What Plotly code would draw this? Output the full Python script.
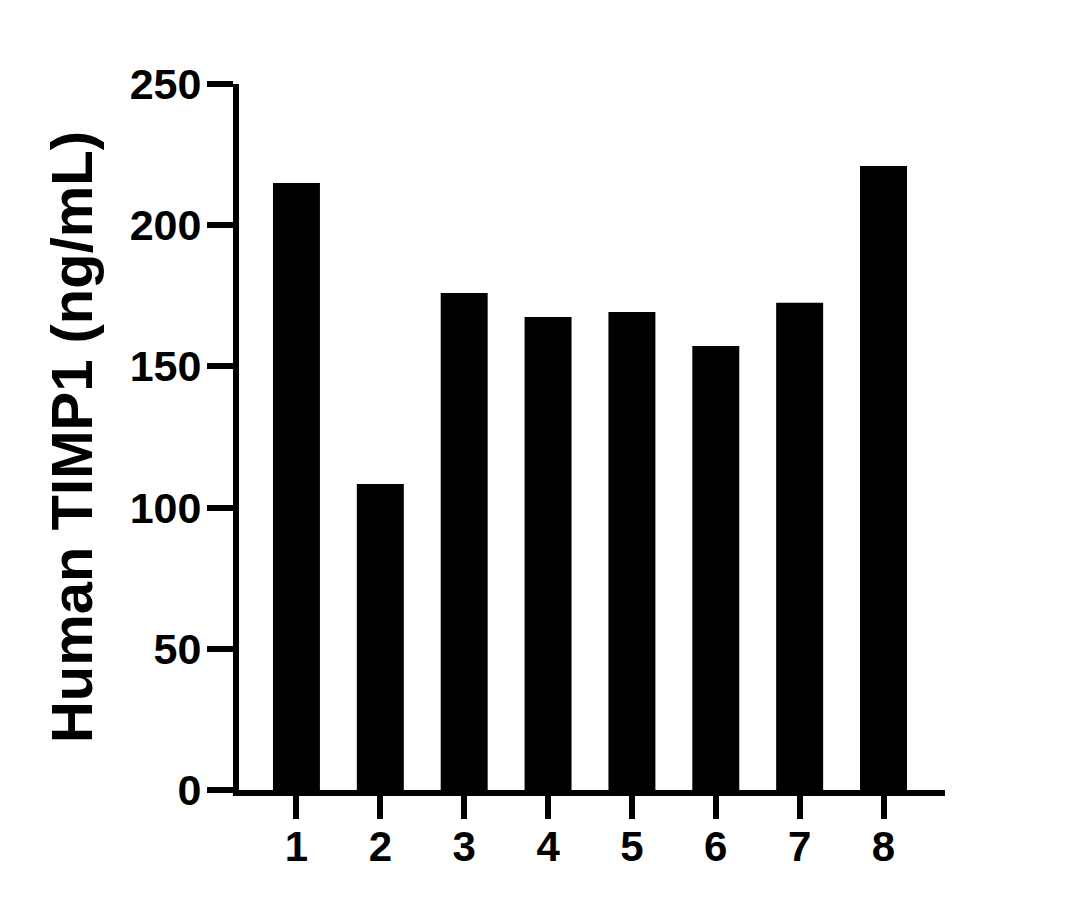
import plotly.graph_objects as go

categories = ["1", "2", "3", "4", "5", "6", "7", "8"]
positions = [1, 2, 3, 4, 5, 6, 7, 8]
values = [214.9, 108.4, 176.0, 167.5, 169.3, 157.2, 172.5, 221.0]
y_ticks = [0, 50, 100, 150, 200, 250]

font_family = "Liberation Sans, Arial, sans-serif"

fig = go.Figure(
    go.Bar(
        x=positions,
        y=values,
        width=0.56,
        marker=dict(color="black", line=dict(width=0)),
    )
)

fig.update_layout(
    width=1082,
    height=908,
    paper_bgcolor="white",
    plot_bgcolor="white",
    margin=dict(l=231, r=145, t=76, b=126),
    showlegend=False,
    font=dict(family=font_family, color="black", weight="bold"),
)

fig.update_xaxes(
    range=[0.315, 8.733],
    tickmode="array",
    tickvals=positions,
    ticktext=categories,
    ticks="outside",
    ticklen=23,
    tickwidth=6,
    tickcolor="black",
    showline=True,
    linewidth=6,
    linecolor="black",
    showgrid=False,
    zeroline=False,
    ticklabelstandoff=-8,
    tickfont=dict(size=42, family=font_family, color="black", weight="bold"),
)

fig.update_yaxes(
    range=[0, 250],
    tickmode="array",
    tickvals=y_ticks,
    ticks="outside",
    ticklen=26,
    tickwidth=6,
    tickcolor="black",
    showline=True,
    linewidth=6,
    linecolor="black",
    showgrid=False,
    zeroline=False,
    ticklabelstandoff=-3,
    tickfont=dict(size=43, family=font_family, color="black", weight="bold"),
    title=dict(
        text="Human TIMP1 (ng/mL)",
        font=dict(size=58, family=font_family, color="black", weight="bold"),
        standoff=20,
    ),
)

fig.write_html("out.html")
